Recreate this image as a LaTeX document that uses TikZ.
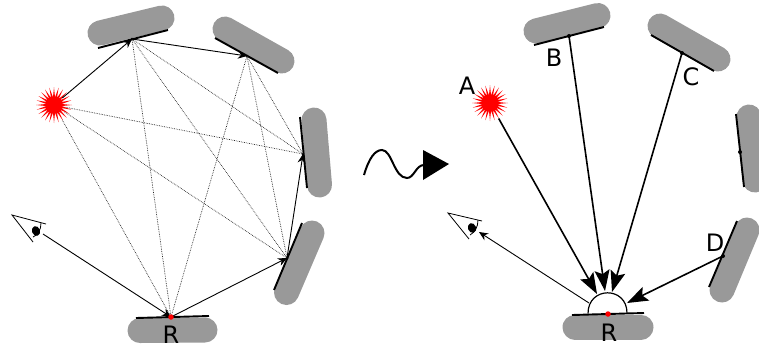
\documentclass[tikz,border=0pt]{standalone}
\usepackage{fontspec}
\setmainfont{DejaVu Sans}
\usetikzlibrary{arrows.meta,shapes.geometric}
\definecolor{pillgray}{HTML}{999999}
\tikzset{
  pill/.style={line width=25pt,line cap=round,color=pillgray},
  mirror/.style={line width=1.9pt,black},
  hit/.style={circle,fill=black,inner sep=0pt,minimum size=4pt},
  redpt/.style={circle,fill=red,inner sep=0pt,minimum size=5.5pt},
  burst/.style={star,star points=24,star point ratio=2.3,fill=red,inner sep=0pt,minimum size=36pt},
  ray/.style={line width=0.9pt,-{Stealth[length=9pt,width=8pt]}},
  weak/.style={line width=0.7pt,densely dotted,black!85},
  strong/.style={line width=1.6pt,-{Stealth[length=21pt,width=15pt,inset=4pt]}},
  eyeline/.style={line width=0.8pt},
  lab/.style={inner sep=0pt,font=\fontsize{24}{24}\selectfont},
}
\begin{document}
\begin{tikzpicture}[x=1pt,y=-1pt]
\useasboundingbox (0,0) rectangle (759,349);
\clip (0,0) rectangle (759,349);
% ---------- left panel
\draw[pill] (100,33) -- (162,18);
\draw[pill] (225,29) -- (282,61);
\draw[pill] (314,120) -- (319.5,185);
\draw[pill] (312,233) -- (286.5,292.5);
\draw[pill] (140,330.5) -- (205,330);
\draw[mirror] (98,48) -- (168,30);
\draw[mirror] (215,38) -- (278,73);
\draw[mirror] (300,117) -- (307,188);
\draw[mirror] (302,223) -- (274,290);
\draw[mirror] (136,318) -- (209,316);
\node[burst] (L) at (54,105) {};
\node[hit,minimum size=3pt] (m1) at (132,39) {};
\node[hit,minimum size=3pt] (m2) at (247,56) {};
\node[hit,minimum size=3pt] (m3) at (303,154) {};
\node[hit,minimum size=3pt] (m4) at (287,258) {};
\coordinate (Rp) at (171,317);
\foreach \a/\b in {L/Rp,L/m4.center,L/m3.center,m1.center/Rp,m1.center/m4.center,m1.center/m3.center,m2.center/Rp,m2.center/m4.center,m2.center/m3.center}
  \draw[weak] (\a) -- (\b);
\draw[ray] (L) -- (m1.center);
\draw[ray] (m1.center) -- (m2.center);
\draw[ray] (Rp) -- (m4.center);
\draw[ray] (m4.center) -- (m3.center);
\coordinate (eyeL) at (43,234);
\draw[ray] (eyeL) -- (Rp);
\node[redpt] (Rd) at (Rp) {};
\draw[eyeline] (46,224) -- (12,215) -- (33,242);
\draw[eyeline] (41,223) .. controls (41,230) and (38,235) .. (33,237);
\node[ellipse,fill=black,inner sep=0pt,minimum width=8pt,minimum height=10pt,rotate=20] (ballL) at (36,231) {};
\node[lab] (RL) at (171,335) {R};
% ---------- transform glyph
\draw[line width=2pt] (364,175) .. controls (369,158) and (375,150) .. (382,150)
  .. controls (392,150) and (394,178) .. (407,178) .. controls (414,178) and (416,165) .. (424,165);
\fill (423,150) -- (449,164) -- (423,180) -- cycle;
% ---------- right panel
\draw[pill] (536,31) -- (598,15.5);
\draw[pill] (660,26) -- (718,59);
\draw[pill] (749,117) -- (755,180);
\draw[pill] (747,230) -- (722,290);
\draw[pill] (575,327) -- (641,327);
\draw[mirror] (534,45) -- (604,27);
\draw[mirror] (651,35) -- (714,71);
\draw[mirror] (736,114) -- (744,187);
\draw[mirror] (737,221) -- (709,287);
\draw[mirror] (572,315) -- (644,313);
\node[burst] (A) at (490,103) {};
\node[hit] (pB) at (569,36) {};
\node[hit] (pC) at (682,53) {};
\node[hit] (pE) at (740,152) {};
\node[hit] (pD) at (723,256) {};
\coordinate (hA) at (597,294);
\coordinate (hB) at (605,291);
\coordinate (hC) at (612,292);
\coordinate (hD) at (627,303);
\coordinate (hV) at (589,303);
\coordinate (eyeR) at (479,232);
\draw[line width=1.2pt] (588,313.5) .. controls (588,286) and (627,286) .. (627,313);
\draw[strong] (A) -- (hA);
\draw[strong] (pB.center) -- (hB);
\draw[strong] (pC.center) -- (hC);
\draw[strong] (pD.center) -- (hD);
\draw[ray] (hV) -- (eyeR);
\node[redpt] (Rq) at (608,314) {};
\draw[eyeline] (482,221) -- (448,213) -- (469,239);
\draw[eyeline] (478,220) .. controls (478,227) and (475,232) .. (470,235);
\node[ellipse,fill=black,inner sep=0pt,minimum width=8pt,minimum height=10pt,rotate=20] (ballR) at (472,228) {};
\node[lab] (tA) at (467,86) {A};
\node[lab] (tB) at (554,58) {B};
\node[lab] (tC) at (691,77) {C};
\node[lab] (tD) at (715,243) {D};
\node[lab] (tR) at (609,333) {R};
\end{tikzpicture}
\end{document}
